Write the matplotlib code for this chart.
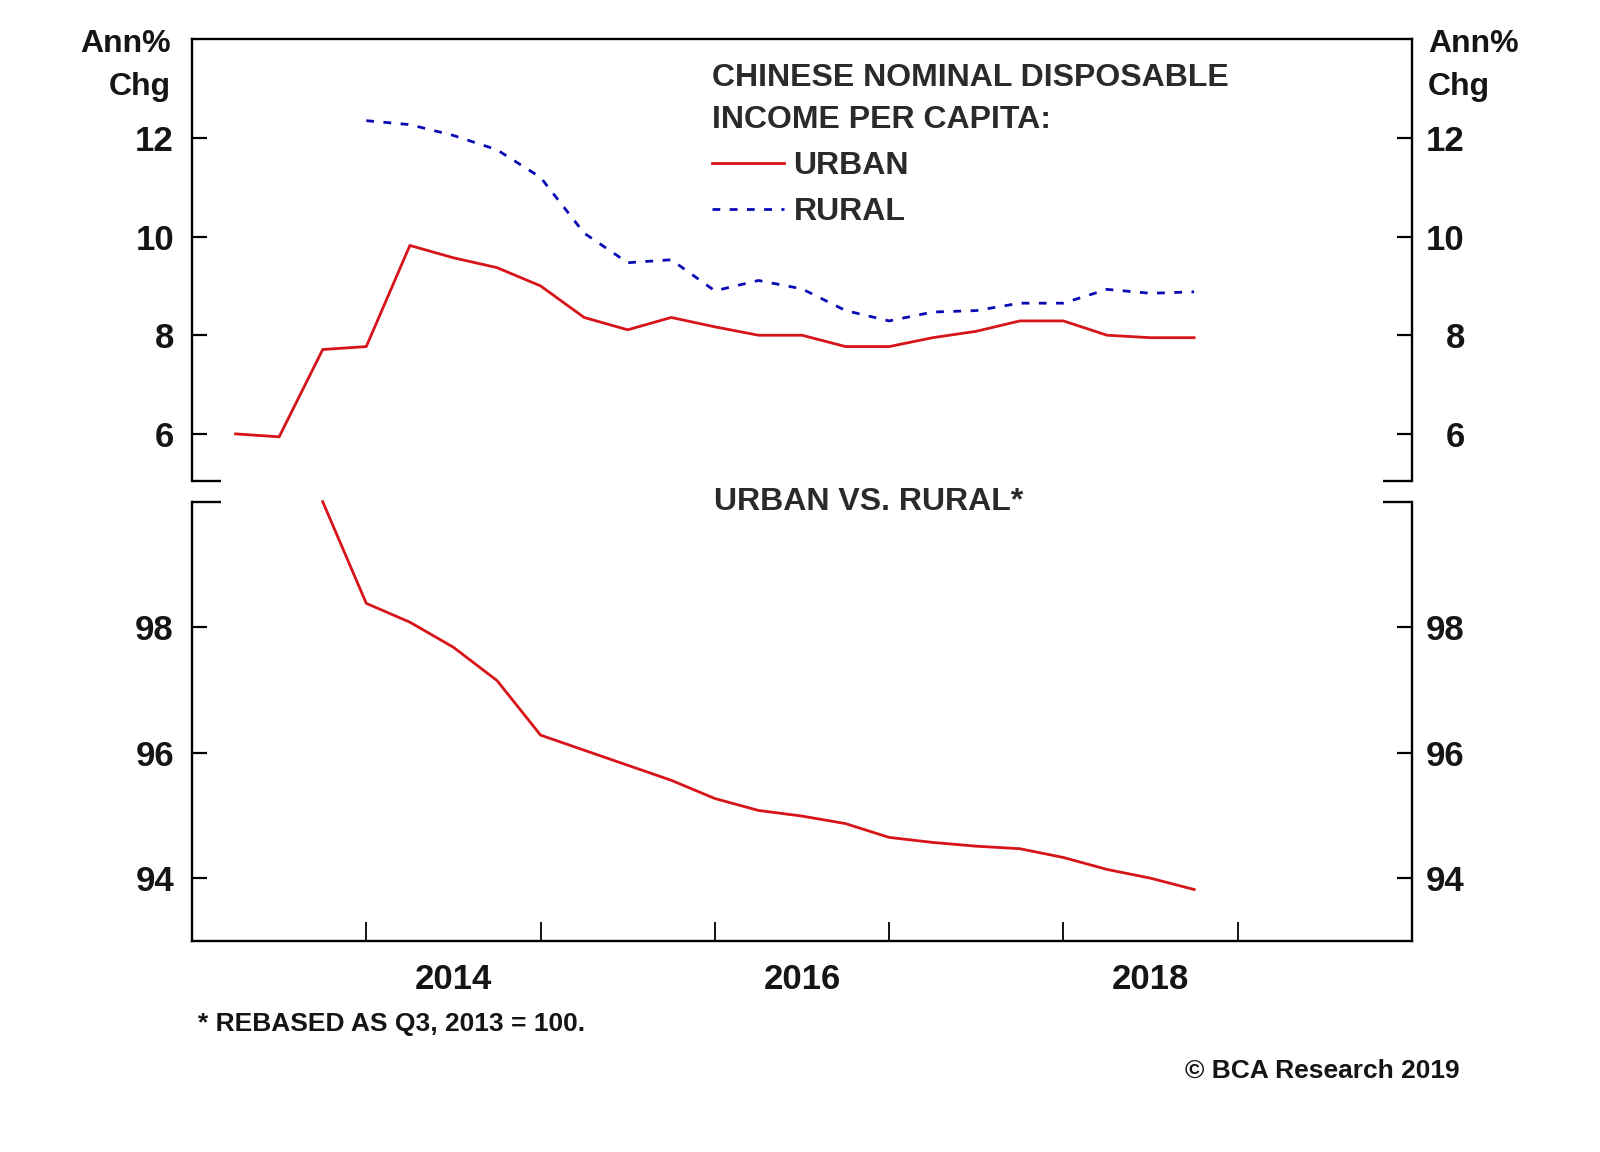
import numpy as np
import pandas as pd
import matplotlib
matplotlib.use('Agg')
import matplotlib.pyplot as plt
from matplotlib import font_manager

# quarterly data, plotted at quarter end
urban_quarters = pd.period_range('2013Q1', '2018Q3', freq='Q')
urban_growth = [6.0, 5.94, 7.71, 7.77,
                9.82, 9.57, 9.37, 9.0,
                8.36, 8.11, 8.36, 8.17,
                8.0, 8.0, 7.77, 7.77,
                7.95, 8.08, 8.29, 8.29,
                8.0, 7.95, 7.95]

rural_quarters = pd.period_range('2013Q4', '2018Q3', freq='Q')
rural_growth = [12.35,
                12.27, 12.05, 11.76, 11.2,
                10.07, 9.47, 9.53, 8.9,
                9.11, 8.94, 8.5, 8.29,
                8.47, 8.5, 8.65, 8.65,
                8.93, 8.85, 8.88]

ratio_quarters = pd.period_range('2013Q3', '2018Q3', freq='Q')
urban_vs_rural = [100.0, 98.38,
                  98.08, 97.68, 97.15, 96.28,
                  96.04, 95.8, 95.56, 95.27,
                  95.08, 94.99, 94.87, 94.65,
                  94.57, 94.51, 94.47, 94.33,
                  94.14, 94.0, 93.82]

top_ticks = [6, 8, 10, 12]
bottom_ticks = [94, 96, 98]
year_labels = ['2014', '2016', '2018']

RED = '#d7141a'
BLUE = '#0a0ab4'
INK = '#151515'


def quarter_end(periods):
    return periods.year + periods.quarter / 4.0


plt.rcParams['font.family'] = ['Liberation Sans', 'DejaVu Sans']
installed = {f.name for f in font_manager.fontManager.ttflist}
if 'Liberation Sans Narrow' in installed:
    narrow = dict(family=['Liberation Sans Narrow', 'DejaVu Sans'], size=22)
else:
    narrow = dict(family=['Liberation Sans', 'DejaVu Sans'], size=19)

fig = plt.figure(figsize=(16, 11.52), dpi=100)
ax_top = fig.add_axes([0.12, 0.5827, 0.7625, 0.3832])
ax_bot = fig.add_axes([0.12, 0.1832, 0.7625, 0.3813])

ax_top.plot(quarter_end(urban_quarters), urban_growth, color=RED, lw=2.0,
            label='URBAN')
ax_top.plot(quarter_end(rural_quarters), rural_growth, color=BLUE, lw=2.0,
            dashes=(2.8, 3.4), label='RURAL')
ax_bot.plot(quarter_end(ratio_quarters), urban_vs_rural, color=RED, lw=2.0,
            clip_on=False)

ax_top.set_ylim(5.05, 14.0)
ax_bot.set_ylim(93.0, 100.0)


def style_axis(ax, ticks, broken_side):
    ax.set_xlim(2013.0, 2020.0)
    for s in ax.spines.values():
        s.set_linewidth(1.7)
    ax.spines[broken_side].set_visible(False)
    y = 0 if broken_side == 'bottom' else 1
    for x0, x1 in [(0, 0.024), (0.976, 1.0)]:
        ax.plot([x0, x1], [y, y], transform=ax.transAxes, color='black',
                lw=1.7, clip_on=False, solid_capstyle='butt')
    ax.set_yticks(ticks)
    ax.tick_params(axis='y', direction='in', length=11, width=1.6,
                   left=True, right=True, labelleft=True, labelright=False,
                   pad=13, labelsize=25, labelcolor=INK)
    for lbl in ax.get_yticklabels():
        lbl.set_fontweight('bold')
    # right side labels, right aligned like the original
    sec = ax.secondary_yaxis('right')
    sec.set_yticks(ticks)
    sec.spines['right'].set_visible(False)
    sec.tick_params(axis='y', length=0, pad=38, labelsize=25, labelcolor=INK)
    for lbl in sec.get_yticklabels():
        lbl.set_horizontalalignment('right')
        lbl.set_fontweight('bold')


style_axis(ax_top, top_ticks, 'bottom')
style_axis(ax_bot, bottom_ticks, 'top')

ax_top.set_xticks([])
ax_bot.set_xticks(range(2014, 2020))
ax_bot.set_xticklabels([])
ax_bot.set_xticks([2014.5, 2016.5, 2018.5], minor=True)
ax_bot.set_xticklabels(year_labels, minor=True, fontweight='bold')
ax_bot.tick_params(axis='x', which='major', direction='in', length=14,
                   width=1.3, top=False)
ax_bot.tick_params(axis='x', which='minor', length=0, pad=16, labelsize=25,
                   labelcolor=INK)

leg = ax_top.legend(title='CHINESE NOMINAL DISPOSABLE\nINCOME PER CAPITA:',
                    loc='upper left', bbox_to_anchor=(0.445, 0.9455),
                    bbox_transform=fig.transFigure, frameon=False,
                    alignment='left', borderpad=0, borderaxespad=0,
                    handlelength=2.25, handletextpad=0.3, labelspacing=0.5,
                    prop=dict(size=23, weight='bold'),
                    title_fontproperties=dict(size=23, weight='bold'))
leg.get_title().set_linespacing(1.55)
leg.get_title().set_color('#2a2a2a')
for t in leg.get_texts():
    t.set_color('#2a2a2a')

fig.text(0.446, 0.5642, 'URBAN VS. RURAL*', fontsize=23, fontweight='bold',
         color='#2a2a2a', va='center')

for x, ha in [(0.107, 'right'), (0.8925, 'left')]:
    fig.text(x, 0.9615, 'Ann%', fontsize=23, fontweight='bold', color=INK,
             ha=ha, va='center')
    fig.text(x, 0.9243, 'Chg', fontsize=23, fontweight='bold', color=INK,
             ha=ha, va='center')

fig.text(0.124, 0.1107, '* REBASED AS Q3, 2013 = 100.', fontweight='bold',
         color=INK, va='center', **narrow)
fig.text(0.912, 0.0703, '\u00a9 BCA Research 2019', fontweight='bold',
         color=INK, ha='right', va='center', **narrow)

fig.savefig('out.png', dpi=100, facecolor='white')
